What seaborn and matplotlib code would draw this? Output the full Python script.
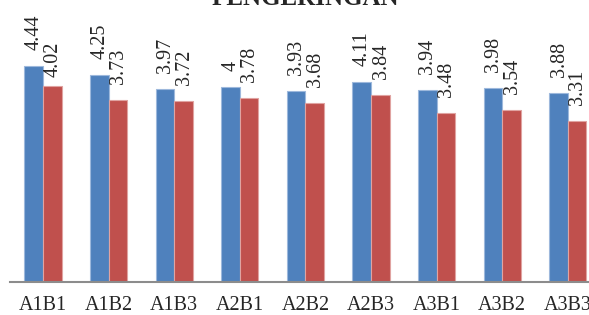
import pandas as pd
import seaborn as sns
import matplotlib.pyplot as plt

sns.set_style("white")
plt.rcParams['font.family'] = ['Liberation Serif', 'DejaVu Serif']

# data
categories = ["A1B1", "A1B2", "A1B3", "A2B1", "A2B2", "A2B3", "A3B1", "A3B2", "A3B3"]
series_1 = [4.44, 4.25, 3.97, 4.00, 3.93, 4.11, 3.94, 3.98, 3.88]
series_2 = [4.02, 3.73, 3.72, 3.78, 3.68, 3.84, 3.48, 3.54, 3.31]
labels_1 = ["4.44", "4.25", "3.97", "4", "3.93", "4.11", "3.94", "3.98", "3.88"]
labels_2 = ["4.02", "3.73", "3.72", "3.78", "3.68", "3.84", "3.48", "3.54", "3.31"]

df = pd.DataFrame({
    "kategori": categories * 2,
    "nilai": series_1 + series_2,
    "seri": ["1"] * len(categories) + ["2"] * len(categories),
})

fig = plt.figure(figsize=(5.89, 3.15), dpi=100)
ax = fig.add_axes([10.2 / 589, 33 / 315, 590.4 / 589, 243.5 / 315])

sns.barplot(data=df, x="kategori", y="nilai", hue="seri",
            palette=["#4F81BD", "#C0504D"], saturation=1, width=0.57, gap=0,
            legend=False, ax=ax)

edge_cols = ["#9db8dc", "#e0a3a1"]
for cont, ec in zip(ax.containers, edge_cols):
    for bar in cont:
        bar.set_edgecolor(ec)
        bar.set_linewidth(0.8)

# rotated value labels above each bar
for k, (cont, labs) in enumerate(zip(ax.containers, [labels_1, labels_2])):
    for i, (bar, lab) in enumerate(zip(cont, labs)):
        off = 11.5
        if k == 1 and i == 0:
            off = 6.5
        ax.annotate(lab, (bar.get_x() + bar.get_width() / 2, bar.get_height()),
                    xytext=(0.5, off), textcoords="offset points",
                    rotation=90, ha="center", va="bottom",
                    fontsize=14.5, annotation_clip=False)

ax.set_ylim(0, 5)
ax.set_xlim(-0.5, len(categories) - 0.5)
ax.set_xlabel("")
ax.set_ylabel("")
ax.set_yticks([])
ax.tick_params(axis="x", length=0, pad=10, labelsize=14.5)
for s in ["top", "right", "left"]:
    ax.spines[s].set_visible(False)
ax.spines["bottom"].set_color("#8c8c8c")
ax.spines["bottom"].set_linewidth(1.5)

fig.text(305 / 589, 1 - 5 / 315, "PENGERINGAN", ha="center", va="baseline",
         fontsize=18, fontweight="bold")

plt.savefig("out.png", dpi=100)
